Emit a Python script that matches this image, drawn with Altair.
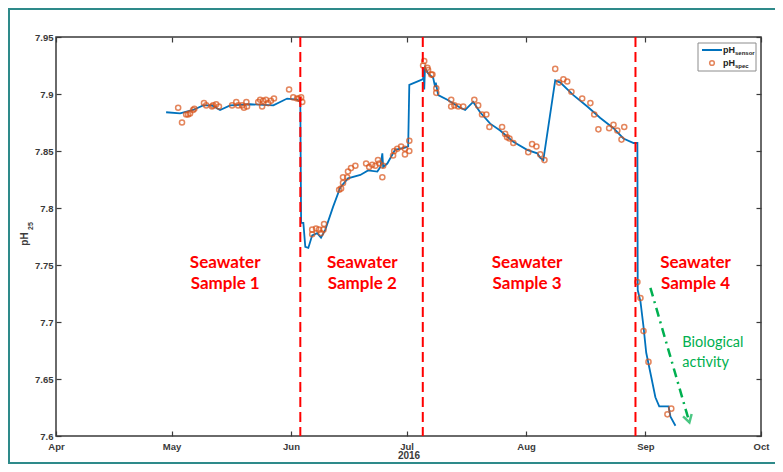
import altair as alt
import pandas as pd

# ---------------- data ----------------
sensor_time = [
    "2016-04-29 14:00", "2016-05-03 05:00", "2016-05-06 14:00", "2016-05-09 05:00",
    "2016-05-11 12:00", "2016-05-13 14:00", "2016-05-16 05:00", "2016-05-21 10:00",
    "2016-05-27 10:00", "2016-05-31 00:00", "2016-06-02 14:00", "2016-06-03 10:00",
    "2016-06-03 15:00", "2016-06-04 05:00", "2016-06-04 17:00", "2016-06-05 12:00",
    "2016-06-06 12:00", "2016-06-07 19:00", "2016-06-08 19:00", "2016-06-09 22:00",
    "2016-06-11 22:00", "2016-06-13 19:00", "2016-06-15 19:00", "2016-06-19 00:00",
    "2016-06-21 00:00", "2016-06-23 10:00", "2016-06-24 05:00", "2016-06-24 17:00",
    "2016-06-24 22:00", "2016-06-26 00:00", "2016-06-28 00:00", "2016-06-30 14:00",
    "2016-07-01 10:00", "2016-07-01 17:00", "2016-07-05 07:00", "2016-07-05 10:00",
    "2016-07-05 14:00", "2016-07-05 19:00", "2016-07-06 14:00", "2016-07-07 22:00",
    "2016-07-08 10:00", "2016-07-08 14:00", "2016-07-09 05:00", "2016-07-11 14:00",
    "2016-07-14 22:00", "2016-07-16 05:00", "2016-07-18 07:00", "2016-07-20 02:00",
    "2016-07-22 17:00", "2016-07-25 07:00", "2016-07-28 17:00", "2016-08-01 07:00",
    "2016-08-03 22:00", "2016-08-04 17:00", "2016-08-05 12:00", "2016-08-08 14:00",
    "2016-08-09 22:00", "2016-08-13 07:00", "2016-08-16 22:00", "2016-08-20 07:00",
    "2016-08-23 17:00", "2016-08-26 07:00", "2016-08-28 22:00", "2016-08-29 22:00",
    "2016-08-30 00:00", "2016-08-30 17:00", "2016-08-31 12:00", "2016-09-01 05:00",
    "2016-09-02 12:00", "2016-09-03 14:00", "2016-09-04 14:00", "2016-09-07 00:00",
    "2016-09-07 12:00", "2016-09-08 19:00",
]
sensor_ph = [
    7.884, 7.883, 7.886, 7.890,
    7.890, 7.886, 7.890, 7.891,
    7.890, 7.896, 7.895, 7.893,
    7.787, 7.787, 7.766, 7.765,
    7.776, 7.778, 7.774, 7.781,
    7.801, 7.818, 7.826, 7.829,
    7.833, 7.832, 7.836, 7.848,
    7.836, 7.839, 7.851, 7.853,
    7.854, 7.908, 7.913, 7.923,
    7.904, 7.923, 7.918, 7.914,
    7.906, 7.910, 7.899, 7.895,
    7.888, 7.886, 7.893, 7.884,
    7.874, 7.868, 7.858, 7.851,
    7.848, 7.844, 7.842, 7.912,
    7.910, 7.899, 7.889, 7.879,
    7.870, 7.861, 7.857, 7.857,
    7.728, 7.718, 7.696, 7.673,
    7.652, 7.634, 7.626, 7.626,
    7.617, 7.609,
]

spec_time = [
    # sample 1
    "2016-05-02 17:00", "2016-05-03 17:00", "2016-05-04 19:00", "2016-05-05 07:00",
    "2016-05-05 19:00", "2016-05-06 14:00", "2016-05-06 22:00", "2016-05-09 10:00",
    "2016-05-10 00:00", "2016-05-11 12:00", "2016-05-11 19:00", "2016-05-12 14:00",
    "2016-05-13 07:00", "2016-05-16 17:00", "2016-05-17 19:00", "2016-05-18 07:00",
    "2016-05-19 07:00", "2016-05-19 19:00", "2016-05-20 10:00", "2016-05-20 14:00",
    "2016-05-23 12:00", "2016-05-24 00:00", "2016-05-24 12:00", "2016-05-24 19:00",
    "2016-05-25 12:00", "2016-05-26 02:00", "2016-05-26 19:00", "2016-05-27 14:00",
    "2016-05-31 12:00", "2016-06-01 14:00", "2016-06-02 14:00", "2016-06-03 02:00",
    "2016-06-03 15:00", "2016-06-03 22:00",
    # sample 2
    "2016-06-06 12:00", "2016-06-07 12:00", "2016-06-06 12:00", "2016-06-08 07:00",
    "2016-06-08 19:00", "2016-06-09 14:00", "2016-06-09 10:00", "2016-06-13 12:00",
    "2016-06-14 00:00", "2016-06-14 12:00", "2016-06-14 12:00", "2016-06-15 14:00",
    "2016-06-15 19:00", "2016-06-16 14:00", "2016-06-17 17:00", "2016-06-20 12:00",
    "2016-06-21 07:00", "2016-06-22 02:00", "2016-06-22 22:00", "2016-06-23 14:00",
    "2016-06-23 22:00", "2016-06-24 17:00", "2016-06-24 22:00", "2016-06-27 12:00",
    "2016-06-27 19:00", "2016-06-28 14:00", "2016-06-29 14:00", "2016-06-30 14:00",
    "2016-06-30 14:00", "2016-07-01 17:00", "2016-07-01 17:00",
    # sample 3
    "2016-07-05 07:00", "2016-07-05 14:00", "2016-07-06 10:00", "2016-07-06 14:00",
    "2016-07-07 10:00", "2016-07-07 17:00", "2016-07-08 17:00", "2016-07-08 17:00",
    "2016-07-12 14:00", "2016-07-12 14:00", "2016-07-13 10:00", "2016-07-14 10:00",
    "2016-07-15 17:00", "2016-07-18 14:00", "2016-07-19 14:00", "2016-07-20 14:00",
    "2016-07-21 17:00", "2016-07-22 12:00", "2016-07-25 19:00", "2016-07-26 14:00",
    "2016-07-27 02:00", "2016-07-27 17:00", "2016-07-28 17:00", "2016-08-01 14:00",
    "2016-08-02 14:00", "2016-08-03 17:00", "2016-08-04 17:00", "2016-08-05 19:00",
    "2016-08-08 14:00", "2016-08-09 14:00", "2016-08-10 17:00", "2016-08-11 17:00",
    "2016-08-12 19:00", "2016-08-15 14:00", "2016-08-17 17:00", "2016-08-18 17:00",
    "2016-08-19 19:00", "2016-08-22 14:00", "2016-08-23 17:00", "2016-08-24 17:00",
    "2016-08-25 19:00", "2016-08-26 12:00",
    # sample 4
    "2016-08-29 22:00", "2016-08-30 17:00", "2016-08-31 12:00", "2016-09-01 19:00",
    "2016-09-06 17:00", "2016-09-07 17:00",
]
spec_ph = [
    # sample 1
    7.888, 7.875, 7.882, 7.882,
    7.883, 7.886, 7.887, 7.892,
    7.890, 7.889, 7.890, 7.891,
    7.889, 7.890, 7.893, 7.890,
    7.890, 7.888, 7.893, 7.889,
    7.893, 7.895, 7.889, 7.894,
    7.895, 7.892, 7.894, 7.896,
    7.904, 7.897, 7.896, 7.896,
    7.897, 7.893,
    # sample 2
    7.781, 7.782, 7.777, 7.781,
    7.778, 7.786, 7.781, 7.816,
    7.817, 7.822, 7.827, 7.827,
    7.832, 7.835, 7.837, 7.839,
    7.836, 7.838, 7.837, 7.842,
    7.839, 7.827, 7.837, 7.846,
    7.850, 7.852, 7.854, 7.847,
    7.852, 7.850, 7.859,
    # sample 3
    7.925, 7.929, 7.923, 7.921,
    7.917, 7.917, 7.905, 7.901,
    7.895, 7.889, 7.890, 7.889,
    7.889, 7.895, 7.890, 7.882,
    7.882, 7.871, 7.871, 7.865,
    7.862, 7.861, 7.857, 7.849,
    7.856, 7.854, 7.847, 7.842,
    7.922, 7.910, 7.913, 7.911,
    7.902, 7.896, 7.892, 7.882,
    7.869, 7.870, 7.873, 7.868,
    7.860, 7.871,
    # sample 4
    7.735, 7.721, 7.692, 7.665,
    7.619, 7.624,
]

boundary_time = ["2016-06-03 10:00", "2016-07-05 05:00", "2016-08-29 10:00"]

label_time = ["2016-05-14 22:00", "2016-06-19 12:00", "2016-08-01 07:00", "2016-09-14 00:00"]
label_text = ["Seawater\nSample 1", "Seawater\nSample 2", "Seawater\nSample 3", "Seawater\nSample 4"]
label_ph = [7.752, 7.752, 7.752, 7.752]

bio_time = ["2016-09-10 14:00"]
bio_text = ["Biological\nactivity"]
bio_ph = [7.682]

arrow_start_time = ["2016-09-02 07:00"]
arrow_start_ph = [7.730]
arrow_end_time = ["2016-09-12 10:00"]
arrow_end_ph = [7.612]

y_ticks = [7.6, 7.65, 7.7, 7.75, 7.8, 7.85, 7.9, 7.95]
month_ticks = [alt.DateTime(year=2016, month=m, date=1) for m in range(4, 11)]
x_domain = [alt.DateTime(year=2016, month=4, date=1), alt.DateTime(year=2016, month=10, date=1)]

# ---------------- frames ----------------
sensor_df = pd.DataFrame({"t": pd.to_datetime(sensor_time), "ph": sensor_ph})
spec_df = pd.DataFrame({"t": pd.to_datetime(spec_time), "ph": spec_ph})
bound_df = pd.DataFrame({"t": pd.to_datetime(boundary_time)})
label_df = pd.DataFrame({"t": pd.to_datetime(label_time), "ph": label_ph, "txt": label_text})
bio_df = pd.DataFrame({"t": pd.to_datetime(bio_time), "ph": bio_ph, "txt": bio_text})
arrow_df = pd.DataFrame({
    "t": pd.to_datetime(arrow_start_time), "ph": arrow_start_ph,
    "t2": pd.to_datetime(arrow_end_time), "ph2": arrow_end_ph,
})
arrow_head_df = pd.DataFrame({"t": pd.to_datetime(arrow_end_time), "ph": arrow_end_ph})
one = pd.DataFrame({"k": [0]})

AX = "#3a3a3a"
FONT = "Liberation Sans"
BLUE = "#0072BD"
ORANGE = "#D95319"
RED = "#FF0000"
GREEN = "#00B050"

xscale = alt.Scale(domain=x_domain)
yscale = alt.Scale(domain=[7.6, 7.95], nice=False, zero=False)

tick_style = dict(
    domain=False, grid=False, ticks=True, tickSize=5, offset=-5, tickColor=AX,
    tickWidth=1.2,
)
label_style = dict(
    labelFont=FONT, labelFontWeight="bold", labelFontSize=9.5,
    labelColor=AX, labelFlush=False, titleFont=FONT, titleFontWeight="bold",
    titleFontSize=10, titleColor=AX,
)

x_axis = alt.Axis(values=month_ticks, format="%b", title="2016", labelPadding=5,
                  titlePadding=0, **tick_style, **label_style)
y_axis = alt.Axis(values=y_ticks, format=".2~f", title="", labelPadding=3,
                  **tick_style, **label_style)

line = alt.Chart(sensor_df).mark_line(color=BLUE, strokeWidth=1.8).encode(
    x=alt.X("t:T", scale=xscale, axis=x_axis),
    y=alt.Y("ph:Q", scale=yscale, axis=y_axis),
)

ghost_x = alt.Axis(orient="top", values=month_ticks, labels=False, title="", **tick_style)
ghost_y = alt.Axis(orient="right", values=y_ticks, labels=False, title="", **tick_style)
ghost = alt.Chart(sensor_df).mark_point(opacity=0).encode(
    x=alt.X("t:T", scale=xscale, axis=ghost_x),
    y=alt.Y("ph:Q", scale=yscale, axis=ghost_y),
)

points = alt.Chart(spec_df).mark_point(
    shape="circle", filled=False, color=ORANGE, size=26, strokeWidth=1.5
).encode(
    x=alt.X("t:T", scale=xscale, axis=None),
    y=alt.Y("ph:Q", scale=yscale, axis=None),
)

bounds = alt.Chart(bound_df).mark_rule(color=RED, strokeDash=[10, 5], strokeWidth=2).encode(
    x=alt.X("t:T", scale=xscale, axis=None),
)

labels = alt.Chart(label_df).mark_text(
    color=RED, font="Lato", fontWeight="bold", fontSize=17, lineBreak="\n",
    lineHeight=21, align="center", baseline="middle",
).encode(
    x=alt.X("t:T", scale=xscale, axis=None),
    y=alt.Y("ph:Q", scale=yscale, axis=None),
    text="txt:N",
)

bio = alt.Chart(bio_df).mark_text(
    color=GREEN, font="Lato", fontSize=14.5, lineBreak="\n", lineHeight=20,
    align="left", baseline="middle",
).encode(
    x=alt.X("t:T", scale=xscale, axis=None),
    y=alt.Y("ph:Q", scale=yscale, axis=None),
    text="txt:N",
)

arrow = alt.Chart(arrow_df).mark_rule(color=GREEN, strokeWidth=2.5, strokeDash=[9, 5, 2, 5]).encode(
    x=alt.X("t:T", scale=xscale, axis=None),
    y=alt.Y("ph:Q", scale=yscale, axis=None),
    x2="t2:T",
    y2="ph2:Q",
)

arrow_head = alt.Chart(arrow_head_df).mark_point(
    shape="M -0.6 -1 L 0 0 L 0.6 -1", filled=False, color=GREEN, size=220,
    strokeWidth=2.5, angle=344,
).encode(
    x=alt.X("t:T", scale=xscale, axis=None),
    y=alt.Y("ph:Q", scale=yscale, axis=None),
)

# y-axis title pH with subscript 25 (rotated)
ytitle_main = alt.Chart(one).mark_text(font=FONT, fontWeight="bold", fontSize=10, color=AX,
                                       angle=270, align="center", baseline="middle").encode(
    x=alt.value(-31), y=alt.value(202), text=alt.value("pH"))
ytitle_sub = alt.Chart(one).mark_text(font=FONT, fontWeight="bold", fontSize=7, color=AX,
                                      angle=270, align="center", baseline="middle").encode(
    x=alt.value(-25), y=alt.value(189), text=alt.value("25"))

# legend box (drawn by hand, MATLAB style)
leg_box = alt.Chart(one).mark_rect(fill="white", stroke="#8c8c8c", strokeWidth=1).encode(
    x=alt.value(642), x2=alt.value(700), y=alt.value(6), y2=alt.value(34)
)
leg_line = alt.Chart(one).mark_rule(color=BLUE, strokeWidth=2).encode(
    x=alt.value(646), x2=alt.value(666), y=alt.value(13)
)
leg_pt = alt.Chart(one).mark_point(shape="circle", filled=False, color=ORANGE, size=22, strokeWidth=1.5).encode(
    x=alt.value(656), y=alt.value(26)
)
leg_t1 = alt.Chart(one).mark_text(font=FONT, fontWeight="bold", fontSize=9, color="#222", align="left", baseline="middle").encode(
    x=alt.value(667), y=alt.value(13), text=alt.value("pH"))
leg_s1 = alt.Chart(one).mark_text(font=FONT, fontWeight="bold", fontSize=6, color="#222", align="left", baseline="middle").encode(
    x=alt.value(679), y=alt.value(16), text=alt.value("sensor"))
leg_t2 = alt.Chart(one).mark_text(font=FONT, fontWeight="bold", fontSize=9, color="#222", align="left", baseline="middle").encode(
    x=alt.value(667), y=alt.value(26), text=alt.value("pH"))
leg_s2 = alt.Chart(one).mark_text(font=FONT, fontWeight="bold", fontSize=6, color="#222", align="left", baseline="middle").encode(
    x=alt.value(679), y=alt.value(29), text=alt.value("spec"))

# outer figure border
border = alt.Chart(one).mark_rect(fillOpacity=0, stroke="#2E8A8A", strokeWidth=2).encode(
    x=alt.value(-47), x2=alt.value(740), y=alt.value(-28), y2=alt.value(426)
)

chart = alt.layer(
    border, line, ghost, points, bounds, labels, bio, arrow, arrow_head,
    ytitle_main, ytitle_sub,
    leg_box, leg_line, leg_pt, leg_t1, leg_s1, leg_t2, leg_s2,
).resolve_axis(x="independent", y="independent").properties(
    width=705, height=399,
    autosize=alt.AutoSizeParams(type="none"),
    padding={"left": 48, "top": 29, "right": 14, "bottom": 28},
    background="white",
).configure_view(stroke=AX, strokeWidth=1.5)

chart.save("out.html", embed_options={"renderer": "svg", "actions": False})
